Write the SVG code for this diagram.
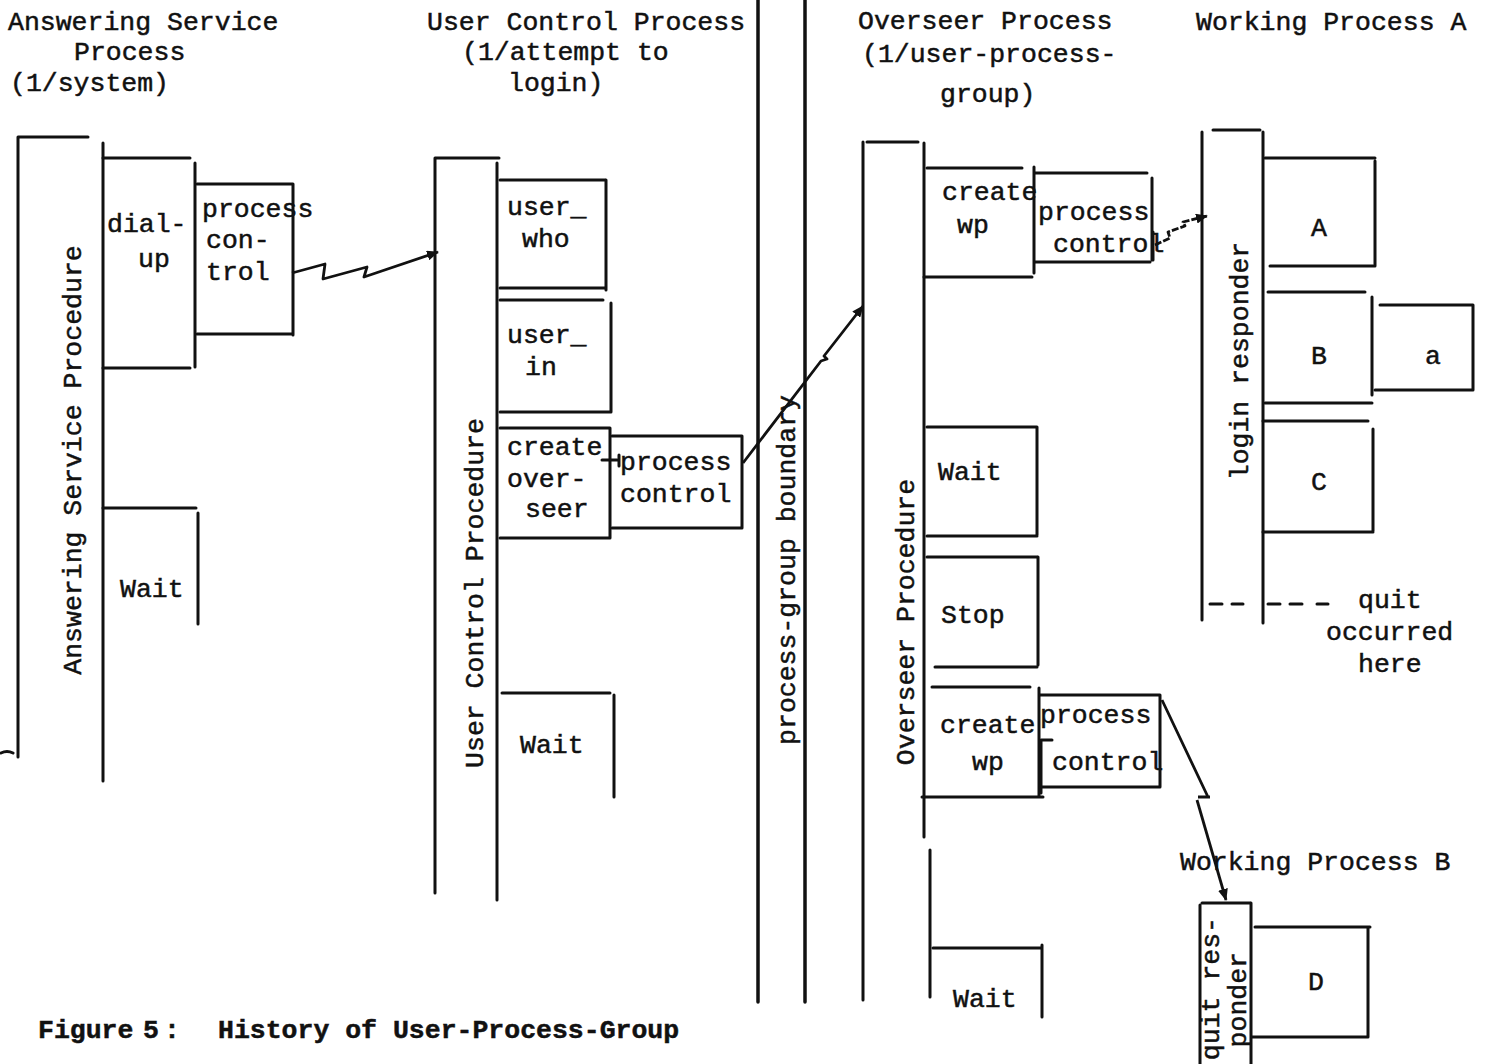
<svg xmlns="http://www.w3.org/2000/svg" width="1487" height="1064" viewBox="0 0 1487 1064">
<style>
.ln{stroke:#111;stroke-width:3;fill:none;stroke-linecap:round;stroke-linejoin:round}
.th{stroke:#111;stroke-width:3.5;fill:none;stroke-linecap:round}
.cn{stroke:#111;stroke-width:2.8;fill:none;stroke-linejoin:round}
.t{font-family:"Liberation Mono","DejaVu Sans Mono",monospace;font-size:26.5px;fill:#111;stroke:#111;stroke-width:0.5}
.cap{font-weight:bold}
</style>
<defs>
<marker id="ah" viewBox="0 0 12 10" refX="11" refY="5" markerWidth="12" markerHeight="10" markerUnits="userSpaceOnUse" orient="auto">
<path d="M0,0 L12,5 L0,10 Z" fill="#111"/>
</marker>
</defs>
<rect width="1487" height="1064" fill="#fff"/>

<g id="headers">
<text class="t" x="8" y="30">Answering Service</text>
<text class="t" x="74" y="60">Process</text>
<text class="t" x="10" y="91">(1/system)</text>
<text class="t" x="427" y="30">User Control Process</text>
<text class="t" x="462" y="60">(1/attempt to</text>
<text class="t" x="508" y="91">login)</text>
<text class="t" x="858" y="29">Overseer Process</text>
<text class="t" x="862" y="62">(1/user-process-</text>
<text class="t" x="940" y="102">group)</text>
<text class="t" x="1196" y="30">Working Process A</text>
<text class="t" x="1180" y="870">Working Process B</text>
</g>

<g id="boundary">
<line class="th" x1="758" y1="0" x2="758" y2="1002"/>
<line class="th" x1="805" y1="0" x2="805" y2="1002"/>
<text class="t" transform="translate(795,570) rotate(-90)" text-anchor="middle">process-group boundary</text>
</g>

<g id="answering-service-procedure">
<path class="ln" d="M18,137 H88 M18,137 V757 M103,143 V781"/>
<path d="M1,753 Q7,750 13,753" class="ln" stroke-width="1.8"/>
<text class="t" transform="translate(81,460) rotate(-90)" text-anchor="middle">Answering Service Procedure</text>
</g>
<g id="dial-up">
<path class="ln" d="M103,158 H190 M195,163 V367 M103,368 H190"/>
<text class="t" x="107" y="232">dial-</text>
<text class="t" x="138" y="267">up</text>
</g>
<g id="as-process-control">
<path class="ln" d="M197,184 H293 V335 M197,334 H293"/>
<text class="t" x="202" y="217">process</text>
<text class="t" x="206" y="248">con-</text>
<text class="t" x="206" y="280">trol</text>
</g>
<g id="as-wait">
<path class="ln" d="M103,508 H196 M198,513 V624"/>
<text class="t" x="120" y="597">Wait</text>
</g>

<g id="user-control-procedure">
<path class="ln" d="M435,158 H499 M435,158 V893 M497,163 V900"/>
<text class="t" transform="translate(483,593) rotate(-90)" text-anchor="middle">User Control Procedure</text>
</g>
<g id="user-who">
<path class="ln" d="M500,180 H605 M606,180 V290 M500,288 H606"/>
<text class="t" x="507" y="215">user_</text>
<text class="t" x="522" y="247">who</text>
</g>
<g id="user-in">
<path class="ln" d="M500,300 H603 M611,303 V412 H500"/>
<text class="t" x="507" y="343">user_</text>
<text class="t" x="525" y="375">in</text>
</g>
<g id="create-overseer">
<path class="ln" d="M500,428 H610 V538 H500"/>
<text class="t" x="507" y="455">create</text>
<text class="t" x="507" y="487">over-</text>
<text class="t" x="525" y="517">seer</text>
</g>
<g id="uc-process-control">
<path class="ln" d="M612,436 H742 V528 H612"/>
<path class="ln" d="M602,460 H617 M619,455 V466" stroke-width="2.5"/>
<text class="t" x="620" y="470">process</text>
<text class="t" x="620" y="502">control</text>
</g>
<g id="uc-wait">
<path class="ln" d="M502,693 H610 M614,695 V797"/>
<text class="t" x="520" y="753">Wait</text>
</g>

<g id="overseer-procedure">
<path class="ln" d="M867,142 H918 M863,142 V1000 M924,143 V837 M930,850 V997"/>
<text class="t" transform="translate(914,622) rotate(-90)" text-anchor="middle">Overseer Procedure</text>
</g>
<g id="create-wp-1">
<path class="ln" d="M927,168 H1022 M1034,167 V273 M924,277 H1032"/>
<text class="t" x="942" y="200">create</text>
<text class="t" x="957" y="233">wp</text>
</g>
<g id="ov-process-control-1">
<path class="ln" d="M1035,173 H1147 M1152,178 V260 M1035,262 H1150 M1153,232 V260"/>
<text class="t" x="1038" y="220">process</text>
<text class="t" x="1053" y="252">control</text>
</g>
<g id="ov-wait">
<path class="ln" d="M927,427 H1037 V535 M927,536 H1037"/>
<text class="t" x="938" y="480">Wait</text>
</g>
<g id="ov-stop">
<path class="ln" d="M927,557 H1037 M1038,557 V665 M935,667 H1037"/>
<text class="t" x="941" y="623">Stop</text>
</g>
<g id="create-wp-2">
<path class="ln" d="M932,687 H1030 M1039,688 V797 M922,797 H1043"/>
<text class="t" x="940" y="733">create</text>
<text class="t" x="972" y="770">wp</text>
</g>
<g id="ov-process-control-2">
<path class="ln" d="M1040,695 H1160 V787 M1040,787 H1160 M1041,740 V793 M1041,740 H1052"/>
<text class="t" x="1040" y="723">process</text>
<text class="t" x="1052" y="770">control</text>
</g>
<g id="ov-wait-2">
<path class="ln" d="M933,948 H1042 M1042,945 V1017"/>
<text class="t" x="953" y="1007">Wait</text>
</g>

<g id="login-responder">
<path class="ln" d="M1213,130 H1260 M1202,132 V620 M1263,132 V623"/>
<text class="t" transform="translate(1248,361) rotate(-90)" text-anchor="middle">login responder</text>
<path class="ln" d="M1210,604 H1222 M1232,604 H1243 M1268,604 H1280 M1290,604 H1302 M1317,604 H1328"/>
<text class="t" x="1358" y="608">quit</text>
<text class="t" x="1326" y="640">occurred</text>
<text class="t" x="1358" y="672">here</text>
</g>
<g id="box-A">
<path class="ln" d="M1265,158 H1375 M1375,161 V266 M1270,266 H1373"/>
<text class="t" x="1311" y="236">A</text>
</g>
<g id="box-B">
<path class="ln" d="M1268,292 H1365 M1372,297 V395 M1265,403 H1372"/>
<text class="t" x="1311" y="364">B</text>
</g>
<g id="box-a">
<path class="ln" d="M1380,305 H1473 V390 M1375,390 H1473"/>
<text class="t" x="1425" y="364">a</text>
</g>
<g id="box-C">
<path class="ln" d="M1263,421 H1368 M1373,429 V531 M1263,532 H1373"/>
<text class="t" x="1311" y="490">C</text>
</g>

<g id="quit-responder">
<path class="ln" d="M1202,903 H1250 M1200,905 V1064 M1251,903 V1064"/>
<text class="t" transform="translate(1219,917) rotate(-90)" text-anchor="end">quit res-</text>
<text class="t" transform="translate(1246,952) rotate(-90)" text-anchor="end">ponder</text>
</g>
<g id="box-D">
<path class="ln" d="M1255,927 H1370 M1368,927 V1037 M1252,1037 H1368"/>
<text class="t" x="1308" y="990">D</text>
</g>

<g id="connectors">
<path class="cn" marker-end="url(#ah)" d="M292,273 L325,264 L323,279 L367,267 L364,277 L438,252"/>
<path class="cn" marker-end="url(#ah)" d="M743,463 L821,361 L827,359 L824,356 L863,306"/>
<path class="cn" marker-end="url(#ah)" stroke-dasharray="7,2" stroke-width="4" d="M1155,245 L1170,238 L1168,232 L1185,226 L1183,222 L1207,216"/>
<path class="cn" d="M1162,700 L1208,797 M1198,797 H1210"/>
<path class="cn" marker-end="url(#ah)" d="M1197,800 L1226,900"/>
</g>

<g id="caption">
<text class="t cap" x="38" y="1038">Figure</text>
<text class="t cap" x="143" y="1038">5</text>
<text class="t cap" x="164" y="1038">:</text>
<text class="t cap" x="218" y="1038">History of User-Process-Group</text>
</g>
</svg>
